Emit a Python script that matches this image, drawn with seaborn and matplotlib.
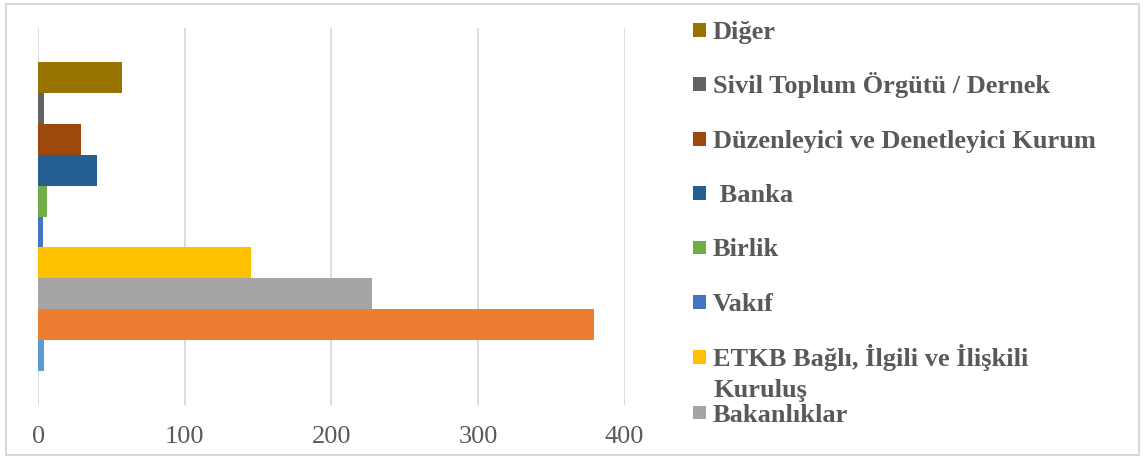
import matplotlib
matplotlib.use("Agg")
import matplotlib.pyplot as plt
from matplotlib.patches import Rectangle
import seaborn as sns
import pandas as pd

# Series (top to bottom). The last two legend entries are cut off in the reference.
series = ["Diğer", "Sivil Toplum Örgütü / Dernek", "Düzenleyici ve Denetleyici Kurum",
          " Banka", "Birlik", "Vakıf", "ETKB Bağlı, İlgili ve İlişkili\nKuruluş",
          "Bakanlıklar", "Seri 9", "Seri 10"]
values = [57, 4, 29, 40, 6, 3, 145, 228, 379, 4]
colors = ["#997300", "#636363", "#9E480E", "#255E91", "#70AD47", "#4472C4",
          "#FFC000", "#A5A5A5", "#ED7D31", "#5B9BD5"]
legend_count = 8
xticks = [0, 100, 200, 300, 400]

W, H = 1147, 458
sns.set_style("white")
plt.rcParams['font.family'] = ['Liberation Serif', 'DejaVu Serif']
TXT = "#595959"

fig = plt.figure(figsize=(W / 100, H / 100), dpi=100)
ax = fig.add_axes([38.3 / W, 53 / H, 586.2 / W, 377 / H])

df = pd.DataFrame({"grup": [""] * len(series), "seri": series, "deger": values})
sns.barplot(data=df, x="deger", y="grup", hue="seri", hue_order=series,
            palette=colors, saturation=1, orient="h", width=0.822, dodge=True, gap=0,
            linewidth=0, errorbar=None, legend=False, ax=ax)

ax.set_xlim(0, 400)
ax.set_ylim(0.5, -0.5)
ax.set_xticks(xticks)
ax.set_xticklabels([str(t) for t in xticks])
ax.set_yticks([])
ax.set_xlabel("")
ax.set_ylabel("")
for s in ax.spines.values():
    s.set_visible(False)
ax.grid(axis="x", color="#D9D9D9", linewidth=1.3)
ax.grid(axis="y", visible=False)
ax.set_axisbelow(True)
ax.tick_params(axis="x", length=0, pad=15, labelsize=19, labelcolor=TXT)

# Outer chart border
fig.patches.append(Rectangle((6 / W, 3.5 / H), 1133 / W, 451 / H, transform=fig.transFigure,
                             fill=False, edgecolor="#D9D9D9", linewidth=1.5))

# Legend (drawn manually, entries overflow like in the reference)
centers = [30, 84, 139, 193, 247.5, 302, 357, 412.5]
for i in range(legend_count):
    c = centers[i]
    fig.patches.append(Rectangle((693 / W, 1 - (c + 6.7) / H), 13.3 / W, 13.3 / H,
                                 transform=fig.transFigure, facecolor=colors[i],
                                 edgecolor="none"))
    lines = series[i].split("\n")
    for j, line in enumerate(lines):
        fig.text(713 / W, 1 - (c + 9 + 30.5 * j) / H, line, fontsize=19,
                 fontweight="bold", color=TXT, va="baseline", ha="left")

fig.savefig("out.png", dpi=100)
